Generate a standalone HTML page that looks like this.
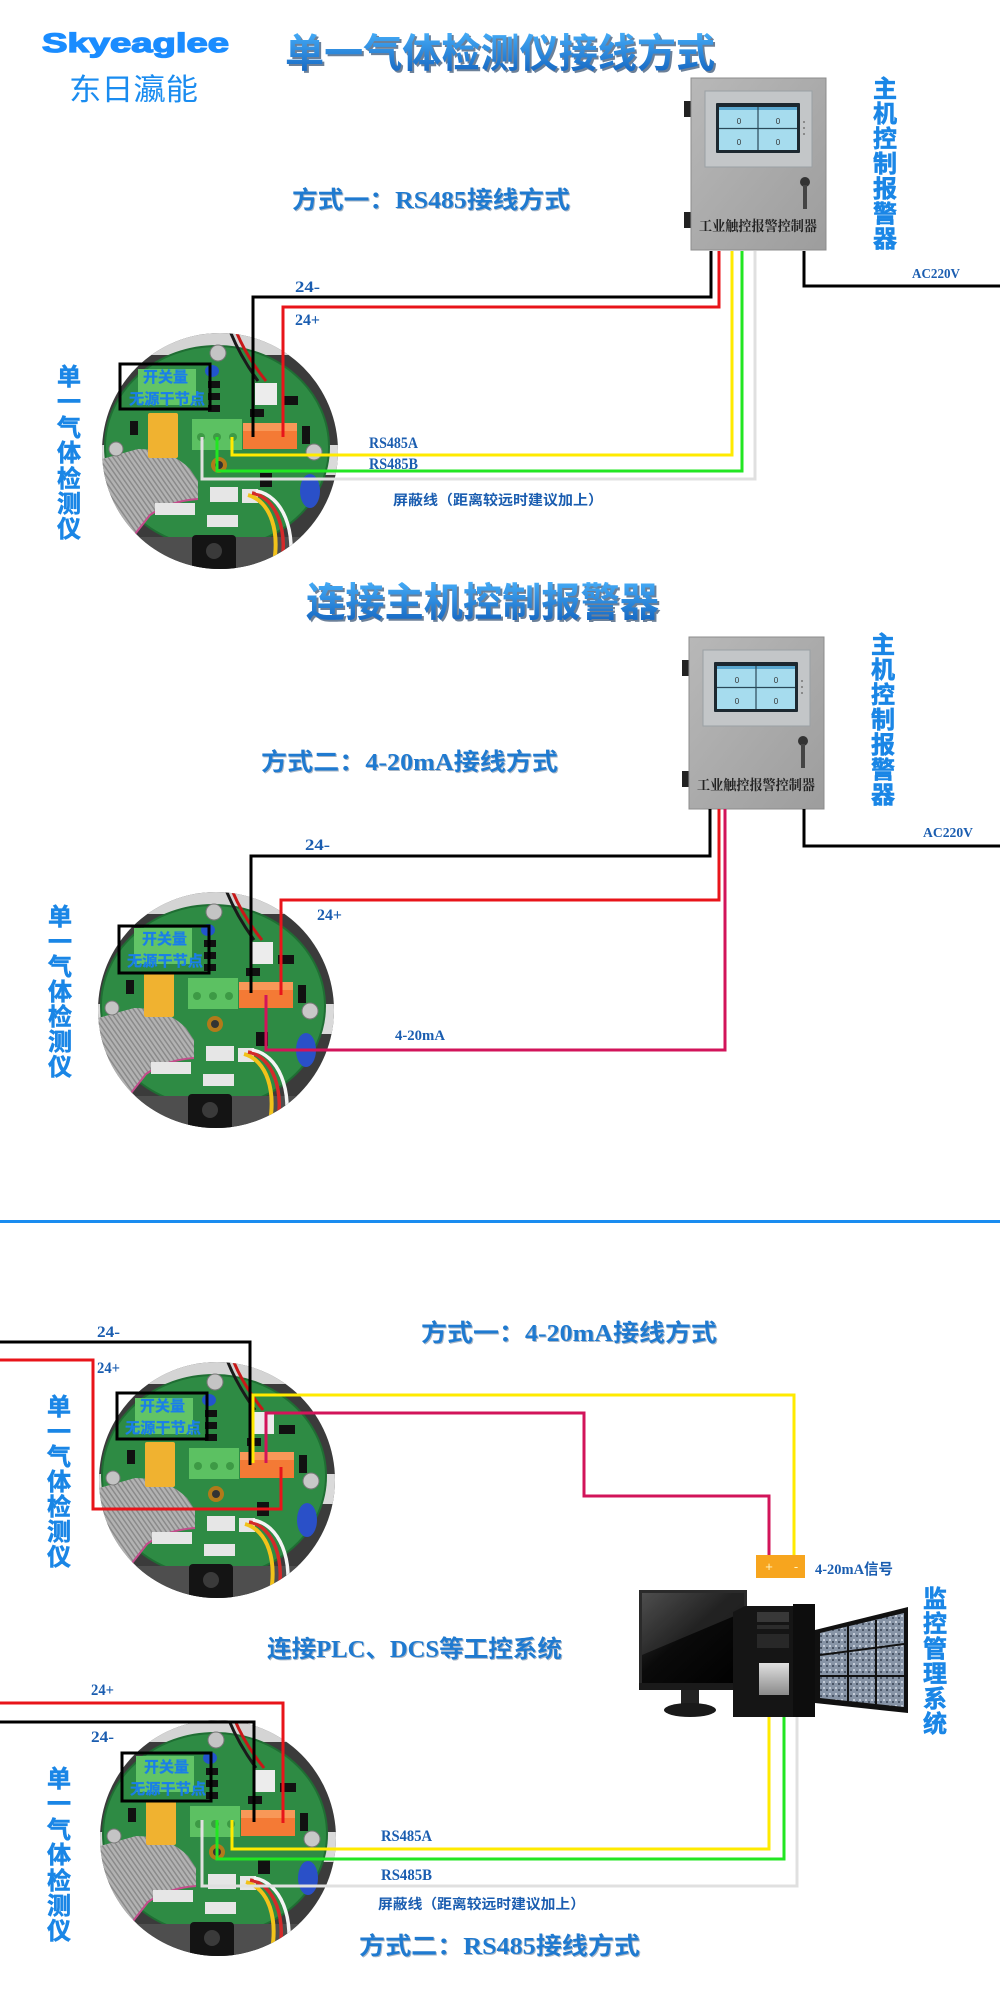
<!DOCTYPE html>
<html><head><meta charset="utf-8">
<style>
html,body{margin:0;padding:0;background:#fff;width:1000px;height:2000px;overflow:hidden}
svg{display:block}
.lb{font-family:"Liberation Serif","Noto Sans CJK SC",serif;font-weight:bold;fill:#1a5db0}
.sub{font-family:"Liberation Serif","Noto Sans CJK SC",sans-serif;font-weight:bold;font-size:24px;fill:#1f7ad0}
.subs{font-family:"Liberation Serif","Noto Sans CJK SC",sans-serif;font-weight:bold;font-size:24px;fill:#0b2d55;opacity:.35}
.ttl{font-family:"Liberation Sans","Noto Sans CJK SC",sans-serif;font-weight:bold;font-size:40px}
.vt{font-family:"Liberation Sans","Noto Sans CJK SC",sans-serif;font-weight:bold;font-size:24px;fill:#1a86e6;stroke:#1a86e6;stroke-width:.6}
.pt{font-family:"Liberation Sans","Noto Sans CJK SC",sans-serif;font-weight:bold;font-size:15px;fill:#1a7fe8;stroke:#1a7fe8;stroke-width:.3}
.w{fill:none;stroke-width:3;stroke-linejoin:miter;stroke-linecap:butt}
.ct{font-family:'Liberation Serif','Noto Serif CJK SC',serif;font-weight:bold;font-size:14px;fill:#222}
</style></head>
<body>
<svg width="1000" height="2000" viewBox="0 0 1000 2000" xmlns="http://www.w3.org/2000/svg">
<defs>
 <linearGradient id="tg" x1="0" y1="0" x2="0" y2="1">
  <stop offset="0" stop-color="#45acf7"/><stop offset="1" stop-color="#1262be"/>
 </linearGradient>
 <linearGradient id="boxg" x1="0" y1="0" x2="1" y2="1">
  <stop offset="0" stop-color="#b8b8b8"/><stop offset="1" stop-color="#9d9d9d"/>
 </linearGradient>
 <linearGradient id="scr" x1="0" y1="0" x2="1" y2="1">
  <stop offset="0" stop-color="#3a3a3a"/><stop offset=".45" stop-color="#0a0a0a"/><stop offset="1" stop-color="#000"/>
 </linearGradient>
 <linearGradient id="silver" x1="0" y1="0" x2="0" y2="1">
  <stop offset="0" stop-color="#e0e0e0"/><stop offset="1" stop-color="#8a8a8a"/>
 </linearGradient>
 <pattern id="rib" width="4" height="4" patternUnits="userSpaceOnUse" patternTransform="rotate(-35)">
  <rect width="4" height="4" fill="#b2b2b2"/><rect width="1.5" height="4" fill="#8a8a8a"/>
 </pattern>
 <pattern id="cam" width="6" height="6" patternUnits="userSpaceOnUse">
  <rect width="6" height="6" fill="#8794a6"/><rect x="1" y="1" width="2" height="2" fill="#c4ccd8"/><rect x="4" y="3" width="2" height="2" fill="#4a5566"/>
 </pattern>
 <clipPath id="pc"><circle r="118"/></clipPath>
 <g id="pcb">
  <circle r="118" fill="#3b3b3b"/>
  <g clip-path="url(#pc)">
   <rect x="-120" y="-120" width="240" height="24" fill="#d4d4d4"/>
   <rect x="-120" y="-6" width="16" height="30" fill="#dadada"/>
   <rect x="104" y="-6" width="16" height="30" fill="#dadada"/>
   <ellipse cx="-3" cy="-4" rx="112" ry="101" fill="#2e8b44"/>
   <ellipse cx="-3" cy="-4" rx="112" ry="101" fill="none" stroke="#1f6e33" stroke-width="2"/>
   <rect x="-120" y="86" width="240" height="40" fill="#4e4e4e"/>
   <rect x="-28" y="84" width="44" height="40" rx="4" fill="#141414"/>
   <circle cx="-6" cy="100" r="8" fill="#3a3a3a"/>
   <path d="M-118,8 L-82,-2 Q-50,-2 -30,18 L-22,30 L-22,48 Q-50,50 -70,64 L-92,92 L-118,92 Z" fill="url(#rib)"/>
   <path d="M-22,48 Q-50,50 -70,64 L-92,92" fill="none" stroke="#c44c8c" stroke-width="2"/>
   <circle cx="-2" cy="-98" r="8" fill="#c4c4c4" stroke="#777"/>
   <circle cx="-104" cy="-2" r="7" fill="#c4c4c4" stroke="#777"/>
   <circle cx="94" cy="1" r="8" fill="#c8c8c8" stroke="#777"/>
   <path d="M10,-120 Q20,-95 38,-70" stroke="#1a1a1a" stroke-width="3" fill="none"/>
   <path d="M16,-120 Q26,-95 46,-70" stroke="#c81818" stroke-width="3" fill="none"/>
   <rect x="-82" y="-82" width="58" height="36" fill="#62c466"/>
   <ellipse cx="-8" cy="-80" rx="7" ry="6" fill="#2255cc"/>
   <rect x="-12" y="-70" width="12" height="7" fill="#111"/>
   <rect x="-12" y="-58" width="12" height="7" fill="#111"/>
   <rect x="-12" y="-46" width="12" height="7" fill="#111"/>
   <rect x="35" y="-68" width="22" height="22" fill="#ececec"/>
   <rect x="30" y="-42" width="14" height="8" fill="#111"/>
   <rect x="-72" y="-38" width="30" height="45" rx="2" fill="#f0b230"/>
   <rect x="-90" y="-30" width="8" height="14" fill="#111"/>
   <rect x="-28" y="-32" width="50" height="31" fill="#5cc162"/>
   <circle cx="-19" cy="-14" r="4" fill="#3d9a45"/>
   <circle cx="-3" cy="-14" r="4" fill="#3d9a45"/>
   <circle cx="13" cy="-14" r="4" fill="#3d9a45"/>
   <rect x="23" y="-28" width="54" height="26" fill="#f47a35"/>
   <rect x="23" y="-28" width="54" height="8" fill="#f89858"/>
   <rect x="62" y="-55" width="16" height="9" fill="#111"/>
   <rect x="82" y="-25" width="8" height="18" fill="#111"/>
   <circle cx="-1" cy="14" r="8" fill="#b27a1a"/><circle cx="-1" cy="14" r="4" fill="#333"/>
   <rect x="-10" y="36" width="28" height="15" fill="#e6e6e6"/>
   <rect x="-65" y="52" width="40" height="12" fill="#e6e6e6"/>
   <rect x="-13" y="64" width="31" height="12" fill="#e6e6e6"/>
   <rect x="22" y="38" width="16" height="14" fill="#e6e6e6"/>
   <rect x="40" y="22" width="12" height="14" fill="#111"/>
   <ellipse cx="90" cy="40" rx="10" ry="17" fill="#2a50c8"/>
   <path d="M28,44 C50,50 62,80 52,122" stroke="#f2c21a" stroke-width="4" fill="none"/>
   <path d="M32,42 C56,46 70,80 60,122" stroke="#d42a2a" stroke-width="3.5" fill="none"/>
   <path d="M36,40 C62,44 78,80 68,122" stroke="#f4f4f4" stroke-width="3.5" fill="none"/>
  </g>
 </g>
 <g id="ctrl">
  <rect x="-7" y="23" width="8" height="16" fill="#222"/>
  <rect x="-7" y="134" width="8" height="16" fill="#222"/>
  <rect x="0" y="0" width="135" height="172" fill="url(#boxg)" stroke="#8c8c8c"/>
  <rect x="14" y="13" width="107" height="76" fill="#c3c6c8" stroke="#9aa0a4"/>
  <rect x="25" y="25" width="84" height="50" rx="1" fill="#1c2830"/>
  <rect x="28" y="29" width="78" height="43" fill="#a6dcee"/>
  <rect x="28" y="29" width="78" height="3" fill="#5aa8d0"/>
  <line x1="67" y1="29" x2="67" y2="72" stroke="#2a4a5a" stroke-width="1.2"/>
  <line x1="28" y1="50.5" x2="106" y2="50.5" stroke="#2a4a5a" stroke-width="1.2"/>
  <circle cx="113" cy="44" r="1" fill="#777"/><circle cx="113" cy="50" r="1" fill="#777"/><circle cx="113" cy="56" r="1" fill="#777"/>
  <circle cx="114" cy="104" r="5" fill="#333"/>
  <rect x="112" y="107" width="4" height="24" fill="#444"/>
 </g>
</defs>

<!-- Logo -->
<text x="42" y="52" textLength="187" lengthAdjust="spacingAndGlyphs" style="font-family:'Liberation Sans',sans-serif;font-weight:bold;font-size:27px;fill:#1a8cff;stroke:#1a8cff;stroke-width:1.3">Skyeaglee</text>
<text x="69" y="100" textLength="129" lengthAdjust="spacingAndGlyphs" style="font-family:'Liberation Sans','Noto Sans CJK SC',sans-serif;font-size:30px;fill:#1a8cf0">东日瀛能</text>

<!-- Titles -->
<text class="ttl" x="287" y="69" textLength="430" lengthAdjust="spacingAndGlyphs" fill="#0b2d55" opacity=".6">单一气体检测仪接线方式</text>
<text class="ttl" x="285" y="67" textLength="430" lengthAdjust="spacingAndGlyphs" fill="url(#tg)">单一气体检测仪接线方式</text>
<text class="ttl" x="308" y="618" textLength="353" lengthAdjust="spacingAndGlyphs" fill="#0b2d55" opacity=".6">连接主机控制报警器</text>
<text class="ttl" x="306" y="616" textLength="353" lengthAdjust="spacingAndGlyphs" fill="url(#tg)">连接主机控制报警器</text>

<!-- Subtitles -->
<text class="subs" x="293" y="209" textLength="278" lengthAdjust="spacingAndGlyphs">方式一：RS485接线方式</text>
<text class="sub" x="292" y="208" textLength="278" lengthAdjust="spacingAndGlyphs">方式一：RS485接线方式</text>
<text class="subs" x="262" y="771" textLength="297" lengthAdjust="spacingAndGlyphs">方式二：4-20mA接线方式</text>
<text class="sub" x="261" y="770" textLength="297" lengthAdjust="spacingAndGlyphs">方式二：4-20mA接线方式</text>
<text class="subs" x="422" y="1342" textLength="296" lengthAdjust="spacingAndGlyphs">方式一：4-20mA接线方式</text>
<text class="sub" x="421" y="1341" textLength="296" lengthAdjust="spacingAndGlyphs">方式一：4-20mA接线方式</text>
<text class="subs" x="268" y="1658" textLength="295" lengthAdjust="spacingAndGlyphs">连接PLC、DCS等工控系统</text>
<text class="sub" x="267" y="1657" textLength="295" lengthAdjust="spacingAndGlyphs">连接PLC、DCS等工控系统</text>
<text class="subs" x="360" y="1955" textLength="281" lengthAdjust="spacingAndGlyphs">方式二：RS485接线方式</text>
<text class="sub" x="359" y="1954" textLength="281" lengthAdjust="spacingAndGlyphs">方式二：RS485接线方式</text>

<!-- Controllers -->
<use href="#ctrl" transform="translate(691,78)"/>
<text class="ct" x="699" y="231" textLength="118" lengthAdjust="spacingAndGlyphs">工业触控报警控制器</text>
<g style="font-family:'Liberation Sans',sans-serif;font-size:8px;fill:#333" text-anchor="middle">
 <text x="739" y="124">0</text><text x="778" y="124">0</text><text x="739" y="145">0</text><text x="778" y="145">0</text>
</g>
<use href="#ctrl" transform="translate(689,637)"/>
<text class="ct" x="697" y="790" textLength="118" lengthAdjust="spacingAndGlyphs">工业触控报警控制器</text>
<g style="font-family:'Liberation Sans',sans-serif;font-size:8px;fill:#333" text-anchor="middle">
 <text x="737" y="683">0</text><text x="776" y="683">0</text><text x="737" y="704">0</text><text x="776" y="704">0</text>
</g>

<!-- Vertical labels -->
<text class="vt" text-anchor="middle"><tspan x="885" y="97">主</tspan><tspan x="885" y="122">机</tspan><tspan x="885" y="147">控</tspan><tspan x="885" y="172">制</tspan><tspan x="885" y="197">报</tspan><tspan x="885" y="222">警</tspan><tspan x="885" y="247">器</tspan></text>
<text class="vt" text-anchor="middle"><tspan x="883" y="653">主</tspan><tspan x="883" y="678">机</tspan><tspan x="883" y="703">控</tspan><tspan x="883" y="728">制</tspan><tspan x="883" y="753">报</tspan><tspan x="883" y="778">警</tspan><tspan x="883" y="803">器</tspan></text>
<text class="vt" text-anchor="middle"><tspan x="69" y="385">单</tspan><tspan x="69" y="410">一</tspan><tspan x="69" y="436">气</tspan><tspan x="69" y="461">体</tspan><tspan x="69" y="487">检</tspan><tspan x="69" y="512">测</tspan><tspan x="69" y="537">仪</tspan></text>
<text class="vt" text-anchor="middle"><tspan x="60" y="925">单</tspan><tspan x="60" y="950">一</tspan><tspan x="60" y="975">气</tspan><tspan x="60" y="1000">体</tspan><tspan x="60" y="1025">检</tspan><tspan x="60" y="1050">测</tspan><tspan x="60" y="1075">仪</tspan></text>
<text class="vt" text-anchor="middle"><tspan x="59" y="1415">单</tspan><tspan x="59" y="1440">一</tspan><tspan x="59" y="1465">气</tspan><tspan x="59" y="1490">体</tspan><tspan x="59" y="1515">检</tspan><tspan x="59" y="1540">测</tspan><tspan x="59" y="1565">仪</tspan></text>
<text class="vt" text-anchor="middle"><tspan x="59" y="1787">单</tspan><tspan x="59" y="1812">一</tspan><tspan x="59" y="1838">气</tspan><tspan x="59" y="1863">体</tspan><tspan x="59" y="1889">检</tspan><tspan x="59" y="1914">测</tspan><tspan x="59" y="1939">仪</tspan></text>
<text class="vt" text-anchor="middle"><tspan x="935" y="1607">监</tspan><tspan x="935" y="1632">控</tspan><tspan x="935" y="1657">管</tspan><tspan x="935" y="1682">理</tspan><tspan x="935" y="1707">系</tspan><tspan x="935" y="1732">统</tspan></text>

<!-- PCBs -->
<use href="#pcb" transform="translate(220,451)"/>
<use href="#pcb" transform="translate(216,1010)"/>
<use href="#pcb" transform="translate(217,1480)"/>
<use href="#pcb" transform="translate(218,1838)"/>

<!-- PCB annotation boxes -->
<rect x="120" y="364" width="90" height="45" fill="none" stroke="#000" stroke-width="3"/>
<text class="pt" x="143" y="382" textLength="45" lengthAdjust="spacingAndGlyphs">开关量</text>
<text class="pt" x="129" y="404" textLength="76" lengthAdjust="spacingAndGlyphs">无源干节点</text>
<rect x="119" y="926" width="90" height="47" fill="none" stroke="#000" stroke-width="3"/>
<text class="pt" x="142" y="944" textLength="45" lengthAdjust="spacingAndGlyphs">开关量</text>
<text class="pt" x="127" y="966" textLength="76" lengthAdjust="spacingAndGlyphs">无源干节点</text>
<rect x="117" y="1393" width="90" height="46" fill="none" stroke="#000" stroke-width="3"/>
<text class="pt" x="140" y="1411" textLength="45" lengthAdjust="spacingAndGlyphs">开关量</text>
<text class="pt" x="125" y="1433" textLength="76" lengthAdjust="spacingAndGlyphs">无源干节点</text>
<rect x="122" y="1753" width="89" height="48" fill="none" stroke="#000" stroke-width="3"/>
<text class="pt" x="144" y="1772" textLength="45" lengthAdjust="spacingAndGlyphs">开关量</text>
<text class="pt" x="130" y="1794" textLength="76" lengthAdjust="spacingAndGlyphs">无源干节点</text>

<!-- Section 1 wires -->
<path class="w" stroke="#e0e0e0" d="M755,251 V479 H202 V437"/>
<path class="w" stroke="#22e622" d="M742,251 V471 H217 V437"/>
<path class="w" stroke="#ffea00" d="M732,251 V455 H232 V437"/>
<path class="w" stroke="#e8141a" d="M719,251 V307 H283 V437"/>
<path class="w" stroke="#000" d="M711,251 V297 H253 V437"/>
<path class="w" stroke="#000" d="M804,251 V286 H1000"/>

<!-- Section 2 wires -->
<path class="w" stroke="#d2145a" d="M725,809 V1050 H266 V995"/>
<path class="w" stroke="#e8141a" d="M719,809 V900 H281 V995"/>
<path class="w" stroke="#000" d="M710,809 V856 H251 V993"/>
<path class="w" stroke="#000" d="M804,809 V846 H1000"/>

<!-- separator -->
<rect x="0" y="1220" width="1000" height="3" fill="#1a8cf0"/>

<!-- Section 3 wires -->
<path class="w" stroke="#000" d="M0,1342 H250 V1465"/>
<path class="w" stroke="#e8141a" d="M0,1360 H93 V1509 H281 V1467"/>
<path class="w" stroke="#ffea00" d="M253,1463 V1395 H794 V1556"/>
<path class="w" stroke="#d2145a" d="M266,1463 V1413 H584 V1496 H769 V1556"/>

<!-- orange signal block -->
<rect x="756" y="1555" width="49" height="23" fill="#f7a51e"/>
<text x="769" y="1571" text-anchor="middle" style="font-family:'Liberation Sans',sans-serif;font-size:13px;fill:#fff4c0">+</text>
<text x="796" y="1571" text-anchor="middle" style="font-family:'Liberation Sans',sans-serif;font-size:13px;fill:#fff4c0">-</text>

<!-- Section 4 wires -->
<path class="w" stroke="#e0e0e0" d="M202,1820 V1886 H797 V1716"/>
<path class="w" stroke="#22e622" d="M217,1820 V1859 H784 V1716"/>
<path class="w" stroke="#ffea00" d="M232,1820 V1849 H769 V1716"/>
<path class="w" stroke="#e8141a" d="M0,1703 H283 V1823"/>
<path class="w" stroke="#000" d="M0,1722 H254 V1822"/>

<!-- Computer -->
<rect x="639" y="1590" width="108" height="100" fill="#2a2a2a"/>
<rect x="642" y="1593" width="102" height="90" fill="url(#scr)"/>
<polygon points="642,1593 744,1593 744,1612 642,1655" fill="#fff" opacity=".1"/>
<rect x="639" y="1683" width="108" height="7" fill="#1a1a1a"/>
<rect x="681" y="1690" width="18" height="16" fill="#222"/>
<ellipse cx="690" cy="1710" rx="26" ry="7" fill="#1a1a1a"/>
<polygon points="733,1612 745,1606 793,1606 793,1717 733,1717" fill="#151515"/>
<rect x="757" y="1612" width="32" height="10" fill="#383838"/>
<rect x="757" y="1625" width="32" height="4" fill="#2c2c2c"/>
<rect x="757" y="1634" width="32" height="14" fill="#282828"/>
<rect x="759" y="1663" width="30" height="32" fill="url(#silver)"/>
<rect x="793" y="1604" width="22" height="113" fill="#0d0d0d"/>
<polygon points="815,1630 908,1607 908,1713 815,1703" fill="#111"/>
<polygon points="820,1633 904,1613 904,1707 820,1698" fill="url(#cam)"/>
<g stroke="#111" stroke-width="2" fill="none">
 <line x1="848" y1="1626" x2="848" y2="1701"/>
 <line x1="876" y1="1620" x2="876" y2="1704"/>
 <line x1="820" y1="1655" x2="904" y2="1644"/>
 <line x1="820" y1="1676" x2="904" y2="1676"/>
</g>

<!-- Small labels -->
<text class="lb" x="295" y="292" font-size="16" textLength="25" lengthAdjust="spacingAndGlyphs">24-</text>
<text class="lb" x="295" y="325" font-size="16" textLength="25" lengthAdjust="spacingAndGlyphs">24+</text>
<text class="lb" x="369" y="448" font-size="16" textLength="49" lengthAdjust="spacingAndGlyphs">RS485A</text>
<text class="lb" x="369" y="469" font-size="16" textLength="49" lengthAdjust="spacingAndGlyphs">RS485B</text>
<text class="lb" x="393" y="505" font-size="14" textLength="210" lengthAdjust="spacingAndGlyphs">屏蔽线（距离较远时建议加上）</text>
<text class="lb" x="912" y="278" font-size="14" textLength="48" lengthAdjust="spacingAndGlyphs">AC220V</text>

<text class="lb" x="305" y="850" font-size="16" textLength="25" lengthAdjust="spacingAndGlyphs">24-</text>
<text class="lb" x="317" y="920" font-size="16" textLength="25" lengthAdjust="spacingAndGlyphs">24+</text>
<text class="lb" x="395" y="1040" font-size="15" textLength="50" lengthAdjust="spacingAndGlyphs">4-20mA</text>
<text class="lb" x="923" y="837" font-size="14" textLength="50" lengthAdjust="spacingAndGlyphs">AC220V</text>

<text class="lb" x="97" y="1337" font-size="16" textLength="23" lengthAdjust="spacingAndGlyphs">24-</text>
<text class="lb" x="97" y="1373" font-size="16" textLength="23" lengthAdjust="spacingAndGlyphs">24+</text>
<text class="lb" x="815" y="1574" font-size="15" textLength="78" lengthAdjust="spacingAndGlyphs">4-20mA信号</text>

<text class="lb" x="91" y="1695" font-size="16" textLength="23" lengthAdjust="spacingAndGlyphs">24+</text>
<text class="lb" x="91" y="1742" font-size="16" textLength="23" lengthAdjust="spacingAndGlyphs">24-</text>
<text class="lb" x="381" y="1841" font-size="16" textLength="51" lengthAdjust="spacingAndGlyphs">RS485A</text>
<text class="lb" x="381" y="1880" font-size="16" textLength="51" lengthAdjust="spacingAndGlyphs">RS485B</text>
<text class="lb" x="378" y="1909" font-size="14" textLength="207" lengthAdjust="spacingAndGlyphs">屏蔽线（距离较远时建议加上）</text>
</svg>
</body></html>
